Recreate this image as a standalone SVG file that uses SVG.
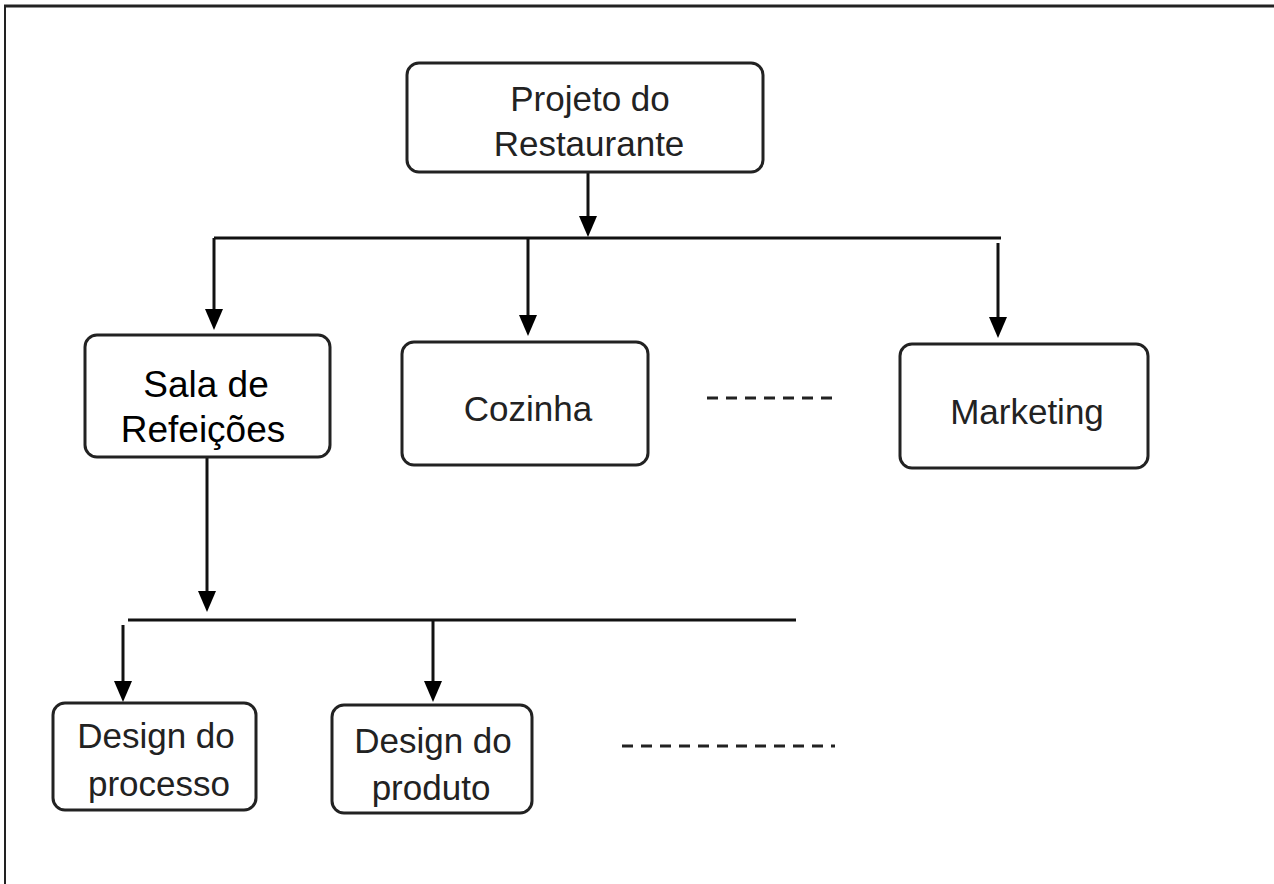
<svg xmlns="http://www.w3.org/2000/svg" width="1274" height="884" viewBox="0 0 1274 884">
<style>
.box{fill:#fff;stroke:#222;stroke-width:3}
.ln{fill:none;stroke:#111;stroke-width:3}
.dash{fill:none;stroke:#222;stroke-width:3;stroke-dasharray:11 8}
.t{font-family:"Liberation Sans",Arial,sans-serif;font-size:35px;fill:#222;text-anchor:middle}
.ta{font-family:"Liberation Sans",Arial,sans-serif;font-size:37px;fill:#000;text-anchor:middle}
</style>
<rect width="1274" height="884" fill="#fff"/>
<g id="frame">
<line x1="4" y1="6" x2="1274" y2="6" stroke="#222" stroke-width="3"/>
<line x1="5" y1="6" x2="5" y2="884" stroke="#222" stroke-width="2"/>
</g>
<g id="connectors">
<path class="ln" d="M588,172 V219"/>
<path d="M579,216 L597,216 L588,237 Z" fill="#000"/>
<path class="ln" d="M214,238 H1001"/>
<path class="ln" d="M214,238 V312"/>
<path d="M205,309 L223,309 L214,330 Z" fill="#000"/>
<path class="ln" d="M528,238 V318"/>
<path d="M519,315 L537,315 L528,336 Z" fill="#000"/>
<path class="ln" d="M998,243 V320"/>
<path d="M989,317 L1007,317 L998,338 Z" fill="#000"/>
<path class="ln" d="M207,457 V594"/>
<path d="M198,591 L216,591 L207,612 Z" fill="#000"/>
<path class="ln" d="M128,620 H796"/>
<path class="ln" d="M123,625 V684"/>
<path d="M114,681 L132,681 L123,702 Z" fill="#000"/>
<path class="ln" d="M433,620 V684"/>
<path d="M424,681 L442,681 L433,702 Z" fill="#000"/>
<path class="dash" d="M707,398 H840"/>
<path class="dash" d="M622,746 H835"/>
</g>
<g id="n-projeto">
<rect class="box" x="407" y="63" width="356" height="109" rx="12"/>
<text class="t" x="590" y="111">Projeto do</text>
<text class="t" x="589" y="156">Restaurante</text>
</g>
<g id="n-sala">
<rect class="box" x="85" y="335" width="245" height="122" rx="12"/>
<text class="ta" x="206" y="397">Sala de</text>
<text class="ta" x="203" y="442">Refeições</text>
</g>
<g id="n-cozinha">
<rect class="box" x="402" y="342" width="246" height="123" rx="12"/>
<text class="t" x="528" y="421">Cozinha</text>
</g>
<g id="n-marketing">
<rect class="box" x="900" y="344" width="248" height="124" rx="12"/>
<text class="t" x="1027" y="424">Marketing</text>
</g>
<g id="n-processo">
<rect class="box" x="53" y="703" width="203" height="107" rx="12"/>
<text class="t" x="156" y="748">Design do</text>
<text class="t" x="159" y="796">processo</text>
</g>
<g id="n-produto">
<rect class="box" x="332" y="705" width="200" height="108" rx="12"/>
<text class="t" x="433" y="753">Design do</text>
<text class="t" x="431" y="800">produto</text>
</g>
</svg>
